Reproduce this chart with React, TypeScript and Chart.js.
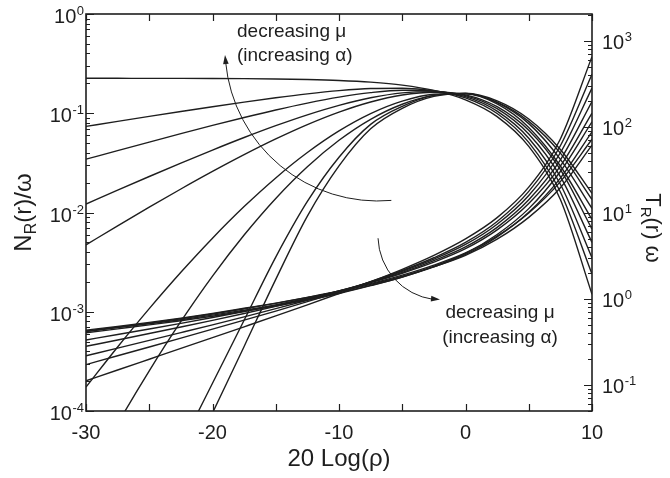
import React, { useEffect, useRef } from "react";
import { Chart, registerables } from "chart.js";

Chart.register(...registerables);

// x values: 20 Log(rho) in dB
const X = [-30, -27.5, -25, -22.5, -20, -17.5, -15, -12.5, -10, -7.5, -5, -2.5, 0, 2.5, 5, 7.5, 10];

// N_R(r)/omega curves (left axis)
const N1 = [0.2250, 0.2249, 0.2247, 0.2245, 0.2240, 0.2231, 0.2215, 0.2188, 0.2141, 0.2059, 0.1922, 0.1699, 0.1365, 0.0925, 0.0463, 0.01353, 0.0015];
const N2 = [0.07377, 0.08283, 0.09293, 0.1041, 0.1163, 0.1294, 0.1432, 0.1568, 0.1689, 0.1773, 0.1787, 0.1686, 0.1431, 0.0995, 0.0509, 0.01607, 0.0024];
const N3 = [0.03444, 0.04204, 0.05124, 0.06227, 0.07536, 0.09057, 0.1079, 0.1265, 0.1453, 0.1613, 0.1705, 0.1673, 0.1468, 0.105, 0.056, 0.01925, 0.0035];
const N4 = [0.01217, 0.01679, 0.02305, 0.03145, 0.04256, 0.05695, 0.07495, 0.09641, 0.1201, 0.1432, 0.1606, 0.1652, 0.1507, 0.1111, 0.0617, 0.02299, 0.005];
const N5 = [0.004722, 0.007337, 0.01131, 0.01725, 0.02592, 0.03825, 0.05511, 0.07685, 0.1027, 0.1299, 0.1527, 0.163, 0.1533, 0.1164, 0.0673, 0.02704, 0.0068];
const N6 = [1.743e-4, 4.418e-4, 1.075e-3, 2.499e-3, 5.513e-3, 0.01147, 0.02231, 0.04017, 0.0663, 0.09909, 0.1323, 0.1554, 0.1578, 0.1292, 0.0828, 0.0396, 0.0135];
const N7 = [1.991e-5, 7.43e-5, 2.54e-4, 7.98e-4, 2.287e-3, 5.93e-3, 0.01386, 0.02891, 0.05341, 0.08694, 0.1233, 0.1512, 0.1589, 0.1331, 0.0874, 0.0432, 0.0156];
const N8 = [5.5e-7, 2.37e-6, 1.02e-5, 4.42e-5, 1.905e-4, 8.2e-4, 3.55e-3, 0.01291, 0.03606, 0.07727, 0.1175, 0.1514, 0.1585, 0.1277, 0.0786, 0.0343, 0.011];
const N9 = [1.905e-7, 8.91e-7, 4.27e-6, 2.0e-5, 9.55e-5, 4.47e-4, 2.12e-3, 9.2e-3, 0.02951, 0.06982, 0.1122, 0.1479, 0.1567, 0.124, 0.072, 0.0294, 0.0085];

// T_R(r) omega curves (right axis)
const T1 = [0.1121, 0.1496, 0.1996, 0.2663, 0.3556, 0.4756, 0.637, 0.8565, 1.159, 1.587, 2.216, 3.218, 5.001, 8.84, 20.0, 72.6, 658];
const T2 = [0.1728, 0.2188, 0.2771, 0.3513, 0.4461, 0.5676, 0.7248, 0.9311, 1.207, 1.59, 2.147, 3.02, 4.553, 7.98, 17.83, 60.5, 410];
const T3 = [0.2189, 0.2688, 0.3304, 0.4067, 0.5015, 0.6211, 0.7723, 0.9679, 1.227, 1.583, 2.099, 2.906, 4.307, 7.41, 16.0, 50.2, 284];
const T4 = [0.2818, 0.3342, 0.397, 0.4728, 0.565, 0.6786, 0.8206, 1.002, 1.241, 1.568, 2.039, 2.799, 4.038, 6.82, 14.26, 41.6, 198];
const T5 = [0.3342, 0.3865, 0.4482, 0.5215, 0.6097, 0.7172, 0.851, 1.021, 1.245, 1.552, 1.996, 2.683, 3.847, 6.37, 12.9, 35.1, 145];
const T6 = [0.425, 0.47, 0.525, 0.59, 0.67, 0.77, 0.89, 1.045, 1.24, 1.508, 1.894, 2.48, 3.436, 5.41, 10.03, 23.2, 72];
const T7 = [0.435, 0.48, 0.535, 0.6, 0.68, 0.78, 0.895, 1.043, 1.229, 1.482, 1.841, 2.377, 3.227, 4.97, 8.91, 19.65, 61.5];
const T8 = [0.42, 0.465, 0.515, 0.575, 0.65, 0.74, 0.85, 0.99, 1.18, 1.44, 1.8, 2.36, 3.3, 5.28, 10.2, 25.5, 88];
const T9 = [0.405, 0.45, 0.5, 0.56, 0.63, 0.72, 0.83, 0.97, 1.16, 1.43, 1.8, 2.4, 3.4, 5.63, 11.25, 30.4, 115];

const N_SERIES = [N1, N2, N3, N4, N5, N6, N7, N8, N9];
const T_SERIES = [T1, T2, T3, T4, T5, T6, T7, T8, T9];

// axis ticks
const X_TICKS = [-30, -25, -20, -15, -10, -5, 0, 5, 10];
const X_LABELS = [-30, -20, -10, 0, 10];
const LEFT_DECADES = [-4, -3, -2, -1, 0];
const RIGHT_DECADES = [-1, 0, 1, 2, 3];

export default function App() {
  const ref = useRef<HTMLCanvasElement>(null);

  useEffect(() => {
    const canvas = ref.current;
    if (!canvas) return;
    const FONT = '"Liberation Sans", Arial, Helvetica, sans-serif';
    const INK = "#1e1e1e";

    const lineStyle = {
      borderColor: INK,
      borderWidth: 1.4,
      pointRadius: 0,
      fill: false,
      cubicInterpolationMode: "monotone" as const,
    };

    const datasets: any[] = [
      ...N_SERIES.map((s, k) => ({
        label: "N" + (k + 1),
        data: X.map((x, i) => ({ x, y: s[i] })),
        yAxisID: "y",
        ...lineStyle,
      })),
      ...T_SERIES.map((s, k) => ({
        label: "T" + (k + 1),
        data: X.map((x, i) => ({ x, y: s[i] })),
        yAxisID: "y2",
        ...lineStyle,
      })),
    ];

    const drawRuns = (
      ctx: CanvasRenderingContext2D,
      runs: { t: string; size: number; dy: number }[],
      align: "center" | "left" | "right"
    ) => {
      let total = 0;
      const widths = runs.map((r) => {
        ctx.font = `${r.size}px ${FONT}`;
        const w = ctx.measureText(r.t).width;
        total += w;
        return w;
      });
      let x = align === "center" ? -total / 2 : align === "right" ? -total : 0;
      ctx.textAlign = "left";
      ctx.textBaseline = "alphabetic";
      runs.forEach((r, i) => {
        ctx.font = `${r.size}px ${FONT}`;
        ctx.fillText(r.t, x, r.dy);
        x += widths[i];
      });
    };

    const arrowHead = (
      ctx: CanvasRenderingContext2D,
      tx: number,
      ty: number,
      dx: number,
      dy: number,
      len: number,
      half: number
    ) => {
      const m = Math.hypot(dx, dy);
      const ux = dx / m;
      const uy = dy / m;
      const bx = tx - ux * len;
      const by = ty - uy * len;
      ctx.beginPath();
      ctx.moveTo(tx, ty);
      ctx.lineTo(bx - uy * half, by + ux * half);
      ctx.lineTo(bx + uy * half, by - ux * half);
      ctx.closePath();
      ctx.fill();
    };

    const decor = {
      id: "decor",
      afterDraw(chart: any) {
        const ctx: CanvasRenderingContext2D = chart.ctx;
        const a = chart.chartArea;
        const xs = chart.scales.x;
        const ys = chart.scales.y;
        const y2 = chart.scales.y2;
        ctx.save();
        ctx.strokeStyle = INK;
        ctx.fillStyle = INK;

        // frame
        ctx.lineWidth = 1.6;
        ctx.strokeRect(a.left, a.top, a.right - a.left, a.bottom - a.top);

        // x ticks (bottom and top, inward)
        ctx.lineWidth = 1.2;
        ctx.beginPath();
        X_TICKS.forEach((v) => {
          const px = Math.round(xs.getPixelForValue(v)) + 0.5;
          ctx.moveTo(px, a.bottom);
          ctx.lineTo(px, a.bottom - 7);
          ctx.moveTo(px, a.top);
          ctx.lineTo(px, a.top + 7);
        });
        // left y ticks
        LEFT_DECADES.forEach((e) => {
          const py = Math.round(ys.getPixelForValue(Math.pow(10, e))) + 0.5;
          ctx.moveTo(a.left, py);
          ctx.lineTo(a.left + 8, py);
          if (e < 0) {
            for (let k = 2; k <= 9; k++) {
              const q = Math.round(ys.getPixelForValue(k * Math.pow(10, e))) + 0.5;
              ctx.moveTo(a.left, q);
              ctx.lineTo(a.left + 4, q);
            }
          }
        });
        // right y ticks
        RIGHT_DECADES.forEach((e) => {
          const py = Math.round(y2.getPixelForValue(Math.pow(10, e))) + 0.5;
          ctx.moveTo(a.right, py);
          ctx.lineTo(a.right - 8, py);
        });
        for (let e = -2; e <= 3; e++) {
          for (let k = 2; k <= 9; k++) {
            const v = k * Math.pow(10, e);
            if (v < y2.min || v > y2.max) continue;
            const q = Math.round(y2.getPixelForValue(v)) + 0.5;
            ctx.moveTo(a.right, q);
            ctx.lineTo(a.right - 4, q);
          }
        }
        ctx.stroke();

        // x tick labels
        ctx.font = `20px ${FONT}`;
        ctx.textAlign = "center";
        ctx.textBaseline = "alphabetic";
        X_LABELS.forEach((v) => {
          ctx.fillText(String(v), xs.getPixelForValue(v), 439);
        });

        // left y tick labels
        LEFT_DECADES.forEach((e) => {
          const py = ys.getPixelForValue(Math.pow(10, e));
          const ex = String(e);
          ctx.font = `13px ${FONT}`;
          const ew = ctx.measureText(ex).width;
          ctx.font = `20px ${FONT}`;
          const tw = ctx.measureText("10").width;
          const exX = 84 - ew;
          ctx.textAlign = "left";
          ctx.fillText("10", exX - tw - 0.5, py + 9);
          ctx.font = `13px ${FONT}`;
          ctx.fillText(ex, exX, py + 1);
        });

        // right y tick labels
        RIGHT_DECADES.forEach((e) => {
          const py = y2.getPixelForValue(Math.pow(10, e));
          const ex = String(e);
          ctx.font = `20px ${FONT}`;
          ctx.textAlign = "left";
          const tw = ctx.measureText("10").width;
          ctx.fillText("10", 602, py + 8);
          ctx.font = `13px ${FONT}`;
          ctx.fillText(ex, 602 + tw + 0.5, py);
        });

        // axis titles
        ctx.font = `24px ${FONT}`;
        ctx.textAlign = "center";
        ctx.fillText("20 Log(\u03c1)", (a.left + a.right) / 2, 466);

        ctx.save();
        ctx.translate(31, (a.top + a.bottom) / 2);
        ctx.rotate(-Math.PI / 2);
        drawRuns(
          ctx,
          [
            { t: "N", size: 24, dy: 0 },
            { t: "R", size: 16, dy: 5 },
            { t: "(r)/\u03c9", size: 24, dy: 0 },
          ],
          "center"
        );
        ctx.restore();

        ctx.save();
        ctx.translate(646, 228);
        ctx.rotate(Math.PI / 2);
        drawRuns(
          ctx,
          [
            { t: "T", size: 22, dy: 0 },
            { t: "R", size: 15, dy: 5 },
            { t: "(r) \u03c9", size: 22, dy: 0 },
          ],
          "center"
        );
        ctx.restore();

        // annotations
        ctx.font = `19px ${FONT}`;
        ctx.textAlign = "left";
        ctx.fillText("decreasing \u03bc", 237, 37);
        ctx.fillText("(increasing \u03b1)", 237, 61);
        ctx.textAlign = "center";
        ctx.fillText("decreasing \u03bc", 500, 318);
        ctx.fillText("(increasing \u03b1)", 500, 343);

        const deg = Math.PI / 180;
        ctx.lineWidth = 1;
        ctx.beginPath();
        ctx.arc(378, 48, 153, 85 * deg, 174.5 * deg, false);
        ctx.stroke();
        arrowHead(ctx, 225, 55, -0.1, -1, 9, 2.8);

        ctx.beginPath();
        ctx.arc(442, 236, 64, 178 * deg, 98 * deg, true);
        ctx.stroke();
        arrowHead(ctx, 440, 299.5, 1, 0.1, 9, 2.8);

        ctx.restore();
      },
    };

    const chart = new Chart(canvas, {
      type: "line",
      data: { datasets },
      options: {
        animation: false,
        responsive: false,
        devicePixelRatio: 1,
        layout: { padding: { left: 86, top: 14, right: 78, bottom: 67 } },
        plugins: { legend: { display: false }, tooltip: { enabled: false } },
        scales: {
          x: { type: "linear", min: -30, max: 10, display: false },
          y: { type: "logarithmic", min: 1e-4, max: 1, display: false },
          y2: { type: "logarithmic", min: 0.0499, max: 2061, display: false, position: "right" },
        },
      } as any,
      plugins: [decor],
    });
    return () => chart.destroy();
  }, []);

  return (
    <div style={{ position: "fixed", left: 0, top: 0, width: 670, height: 478, background: "#ffffff" }}>
      <canvas ref={ref} width={670} height={478} style={{ display: "block" }} />
    </div>
  );
}
